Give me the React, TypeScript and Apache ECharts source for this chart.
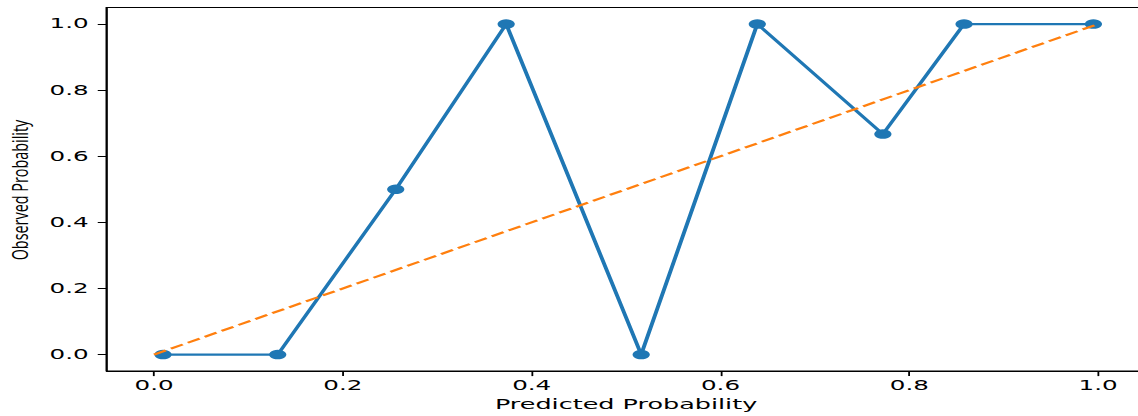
import React, { useEffect, useRef } from "react";
import * as echarts from "echarts";

// Calibration curve: mean predicted probability per bin vs. observed fraction of positives
const predicted = [0.0095, 0.131, 0.256, 0.373, 0.516, 0.639, 0.772, 0.858, 0.995];
const observed = [0, 0, 0.5, 1, 0, 1, 0.667, 1, 1];
// Perfectly calibrated reference line
const diagonalX = [0, 1];
const diagonalY = [0, 1];
const tickValues = [0, 0.2, 0.4, 0.6, 0.8, 1.0];

const STRETCH = 1.82;
const INNER_W = 645;
const H = 416;

export default function App() {
  const ref = useRef<HTMLDivElement>(null);

  useEffect(() => {
    if (!ref.current) return;
    const chart = echarts.init(ref.current, null, { renderer: "svg" });
    const axisText = { fontFamily: "DejaVu Sans", fontSize: 13.5, color: "#000" };
    chart.setOption({
      animation: false,
      backgroundColor: "#fff",
      grid: {
        left: 58.7,
        top: 7.5,
        width: 570.6,
        height: 364.5,
        show: true,
        borderColor: "#000",
        borderWidth: 1,
        backgroundColor: "transparent",
      },
      xAxis: {
        type: "value",
        min: -0.05,
        max: 1.05,
        splitLine: { show: false },
        axisLine: { show: true, onZero: false, lineStyle: { color: "#000", width: 1 } },
        axisTick: { show: true, length: 5, customValues: tickValues, lineStyle: { color: "#000" } },
        axisLabel: {
          ...axisText,
          margin: 7,
          customValues: tickValues,
          formatter: (v: number) => v.toFixed(1),
        },
        name: "Predicted Probability",
        nameLocation: "middle",
        nameGap: 22,
        nameTextStyle: { fontFamily: "DejaVu Sans", fontSize: 14, color: "#000" },
      },
      yAxis: {
        type: "value",
        min: -0.05,
        max: 1.05,
        splitLine: { show: false },
        axisLine: { show: true, onZero: false, lineStyle: { color: "#000", width: 1 } },
        axisTick: { show: true, length: 5, customValues: tickValues, lineStyle: { color: "#000" } },
        axisLabel: {
          ...axisText,
          margin: 10,
          customValues: tickValues,
          formatter: (v: number) => v.toFixed(1),
        },
      },
      graphic: [
        {
          type: "text",
          x: 10.4,
          y: 190,
          rotation: Math.PI / 2,
          scaleX: 1.2,
          style: {
            text: "Observed Probability",
            fontFamily: "Open Sans",
            fontSize: 12,
            fill: "#000",
            align: "center",
            verticalAlign: "middle",
          },
        },
      ],
      series: [
        {
          type: "line",
          data: predicted.map((x, i) => [x, observed[i]]),
          symbol: "circle",
          symbolSize: 9.5,
          showSymbol: true,
          lineStyle: { color: "#1f77b4", width: 2.2 },
          itemStyle: { color: "#1f77b4" },
          z: 2,
        },
        {
          type: "line",
          data: diagonalX.map((x, i) => [x, diagonalY[i]]),
          symbol: "none",
          lineStyle: { color: "#ff7f0e", width: 2, type: [7.7, 3.3] },
          z: 3,
        },
      ],
    });
    return () => chart.dispose();
  }, []);

  return (
    <div
      style={{
        position: "fixed",
        left: 0,
        top: 0,
        width: 1138,
        height: H,
        overflow: "hidden",
        background: "#fff",
      }}
    >
      <div
        ref={ref}
        style={{
          width: INNER_W,
          height: H,
          transform: `scaleX(${STRETCH})`,
          transformOrigin: "0 0",
        }}
      />
    </div>
  );
}
